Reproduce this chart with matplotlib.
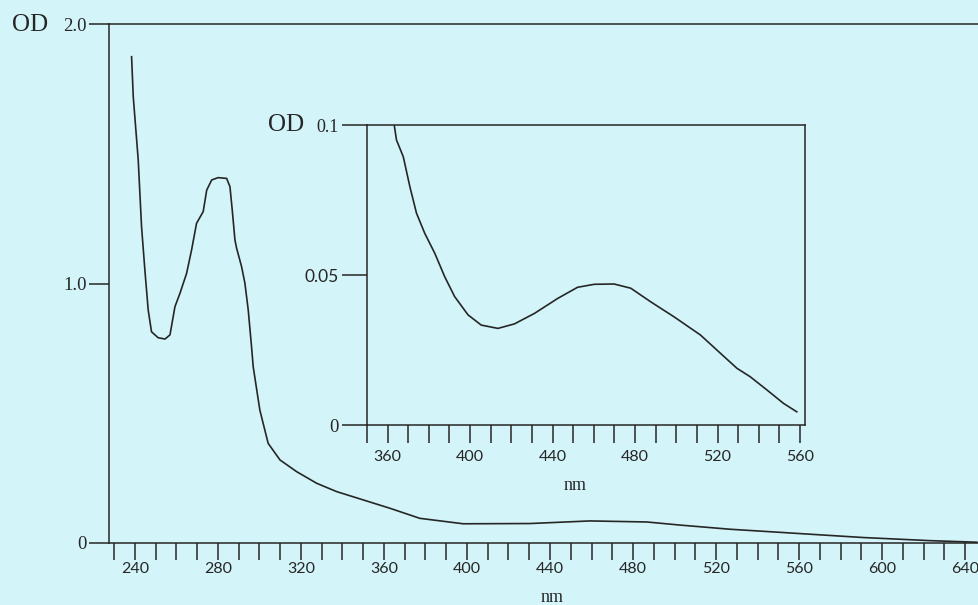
import matplotlib
matplotlib.use("Agg")
import matplotlib.pyplot as plt

# ---- data ----
main_wl = [238.4, 239.2, 241.6, 243.2, 244.8, 246.4, 248.0, 251.2, 254.5, 256.9,
           259.3, 261.7, 264.9, 267.3, 269.7, 272.9, 274.6, 277.0, 280.1, 284.2,
           285.8, 286.9, 288.2, 289.0, 291.4, 293.0, 294.6, 296.2, 297.0, 300.2,
           304.2, 309.9, 317.9, 327.6, 337.2, 350.0, 362.8, 377.3, 398.2, 430.4,
           459.3, 486.6, 502.7, 526.7, 558.9, 591.0, 623.1, 645.6]
main_od = [1.874, 1.72, 1.476, 1.219, 1.052, 0.898, 0.814, 0.791, 0.786, 0.802,
           0.911, 0.962, 1.039, 1.129, 1.232, 1.277, 1.36, 1.399, 1.408, 1.405,
           1.373, 1.283, 1.168, 1.136, 1.065, 1.001, 0.898, 0.756, 0.679, 0.512,
           0.384, 0.32, 0.275, 0.23, 0.198, 0.166, 0.134, 0.095, 0.074, 0.075,
           0.085, 0.081, 0.069, 0.053, 0.037, 0.021, 0.009, 0.003]

inset_wl = [363.2, 364.3, 367.6, 370.8, 374.0, 378.0, 382.9, 387.7, 392.5, 399.0,
            405.4, 413.5, 421.5, 431.2, 442.5, 452.1, 460.2, 469.8, 477.9, 487.5,
            498.8, 511.7, 521.4, 529.4, 535.8, 543.9, 552.0, 558.4]
inset_od = [0.100, 0.095, 0.0894, 0.0794, 0.0706, 0.0639, 0.0572, 0.0494, 0.0428, 0.0367,
            0.0333, 0.0322, 0.0337, 0.0372, 0.0422, 0.0459, 0.0469, 0.0470, 0.0456, 0.0411,
            0.0361, 0.0300, 0.0239, 0.0189, 0.0161, 0.0117, 0.0072, 0.0044]

main_yticks = [0, 1.0, 2.0]
main_ylabels = ["0", "1.0", "2.0"]
main_xlabel_ticks = [240, 280, 320, 360, 400, 440, 480, 520, 560, 600, 640]
inset_yticks = [0, 0.05, 0.1]
inset_ylabels = ["0", "0.05", "0.1"]
inset_xlabel_ticks = [360, 400, 440, 480, 520, 560]

BG = "#d3f4f9"
INK = "#262626"
SERIF = "Liberation Serif"
SANS = "Lato"

fig = plt.figure(figsize=(9.79, 6.05), dpi=100, facecolor=BG)

# ---- main axes ----
ax = fig.add_axes([0.1113, 0.1025, 1 - 0.1113, 0.9603 - 0.1025], facecolor=BG)
ax.plot(main_wl, main_od, color=INK, lw=1.2, solid_joinstyle="round")
ax.set_xlim(227.5, 646.7)
ax.set_ylim(0, 2.0)
ax.spines["right"].set_visible(False)
for s in ["left", "bottom", "top"]:
    ax.spines[s].set_color(INK)
    ax.spines[s].set_linewidth(1.1)

minor = list(range(230, 650, 10))
ax.set_xticks(minor)
ax.set_xticklabels([str(v) if v in main_xlabel_ticks else "" for v in minor])
ax.tick_params(axis="x", direction="out", length=12.5, width=1.1, color=INK,
               pad=1.5, labelcolor=INK)
ax.set_yticks(main_yticks)
ax.set_yticklabels(main_ylabels)
ax.tick_params(axis="y", direction="out", length=14.5, width=1.1, color=INK,
               pad=1.5, labelcolor=INK)
for lbl in ax.get_xticklabels():
    lbl.set_fontfamily(SANS)
    lbl.set_fontsize(11.5)
for lbl in ax.get_yticklabels():
    lbl.set_fontfamily(SERIF)
    lbl.set_fontsize(13.5)

# ---- inset axes ----
ins = fig.add_axes([367 / 979, 1 - 425 / 605, (805 - 367) / 979, (425 - 125) / 605],
                   facecolor=BG)
ins.plot(inset_wl, inset_od, color=INK, lw=1.2, solid_joinstyle="round")
ins.set_xlim(350.3, 562.4)
ins.set_ylim(0, 0.1)
for s in ins.spines.values():
    s.set_color(INK)
    s.set_linewidth(1.1)
iminor = list(range(350, 561, 10))
ins.set_xticks(iminor)
ins.set_xticklabels([str(v) if v in inset_xlabel_ticks else "" for v in iminor])
ins.tick_params(axis="x", direction="out", length=13, width=1.1, color=INK,
                pad=5, labelcolor=INK)
ins.set_yticks(inset_yticks)
ins.set_yticklabels(inset_ylabels)
ins.tick_params(axis="y", direction="out", length=18, width=1.1, color=INK,
                pad=2.5, labelcolor=INK)
for lbl in ins.get_xticklabels():
    lbl.set_fontfamily(SANS)
    lbl.set_fontsize(11.5)
for lbl, fam, sz in zip(ins.get_yticklabels(), [SERIF, SANS, SERIF], [13.5, 12.5, 13]):
    lbl.set_fontfamily(fam)
    lbl.set_fontsize(sz)

# ---- texts ----
fig.text(30 / 979, 1 - 25 / 605, "OD", fontfamily=SERIF, fontsize=18,
         ha="center", va="center", color=INK)
fig.text(286 / 979, 1 - 125 / 605, "OD", fontfamily=SERIF, fontsize=18,
         ha="center", va="center", color=INK)
fig.text(552 / 979, 1 - 597 / 605, "nm", fontfamily=SERIF, fontsize=13,
         ha="center", va="center", color=INK)
fig.text(575 / 979, 1 - 486 / 605, "nm", fontfamily=SERIF, fontsize=13,
         ha="center", va="center", color=INK)

fig.savefig("out.png", dpi=100, facecolor=BG)
